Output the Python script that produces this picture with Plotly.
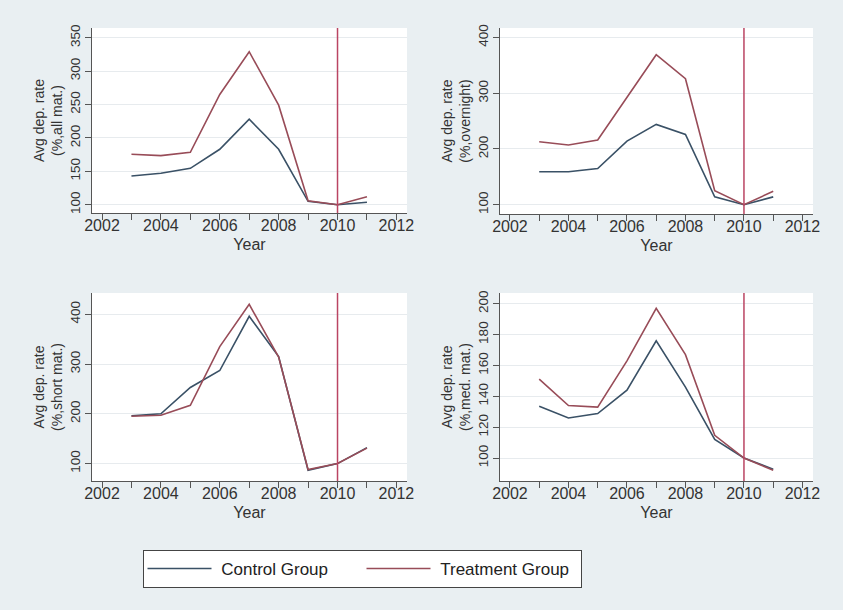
import plotly.graph_objects as go

years = [2003, 2004, 2005, 2006, 2007, 2008, 2009, 2010, 2011]
cutoff_year = 2010

x_tickvals = list(range(2002, 2013))
x_ticktext = [str(y) if y % 2 == 0 else "" for y in x_tickvals]

# Panel 1: all maturities
all_control = [143, 147, 154.5, 183, 228, 183, 105, 100, 103.6]
all_treatment = [175.5, 173.5, 178.5, 265, 329, 249, 106, 100, 112]
# Panel 2: overnight
on_control = [159, 159, 165, 214, 244, 226, 114, 100, 114]
on_treatment = [213, 207, 216, 292, 369, 326, 125, 100, 124]
# Panel 3: short maturity
short_control = [196, 200, 253, 287, 396, 315, 86.5, 100, 132]
short_treatment = [195, 197, 217, 335, 420, 314, 88, 100, 131]
# Panel 4: medium maturity
med_control = [133.5, 126, 128.8, 144, 176, 146, 112, 100, 92.7]
med_treatment = [151.2, 134, 133, 163, 197, 167, 114.7, 100, 92]

y_titles = [
    "Avg dep. rate<br>(%,all mat.)",
    "Avg dep. rate<br>(%,overnight)",
    "Avg dep. rate<br>(%,short mat.)",
    "Avg dep. rate<br>(%,med. mat.)",
]
y_ticks = [
    [100, 150, 200, 250, 300, 350],
    [100, 200, 300, 400],
    [100, 200, 300, 400],
    [100, 120, 140, 160, 180, 200],
]
y_ranges = [[87.6, 364.5], [83.3, 417], [65, 442.8], [85.1, 207]]
x_range = [2001.66, 2012.36]

controls = [all_control, on_control, short_control, med_control]
treatments = [all_treatment, on_treatment, short_treatment, med_treatment]

W, H = 843, 610
# pixel boxes (left, right, top, bottom)
boxes = [(92, 407, 28, 213), (500, 813, 28, 214), (92, 407, 293, 481), (500, 813, 293, 481)]

BG = "#E9EFF2"
CONTROL_COLOR = "#3A5166"
TREAT_COLOR = "#984C58"
VLINE_COLOR = "#BA4563"
AXIS_COLOR = "#555555"
TEXT_COLOR = "#333333"
FONT = "Liberation Sans, Arial, sans-serif"

fig = go.Figure()
layout = {}
shapes = []
for i in range(4):
    n = "" if i == 0 else str(i + 1)
    fig.add_trace(go.Scatter(
        x=years, y=controls[i], mode="lines", name="\u00a0Control Group",
        line=dict(color=CONTROL_COLOR, width=1.6), legendgroup="c",
        showlegend=(i == 0), xaxis="x" + n, yaxis="y" + n))
    fig.add_trace(go.Scatter(
        x=years, y=treatments[i], mode="lines", name="\u00a0Treatment Group",
        line=dict(color=TREAT_COLOR, width=1.6), legendgroup="t",
        showlegend=(i == 0), xaxis="x" + n, yaxis="y" + n))
    l, r, t, b = boxes[i]
    layout["xaxis" + n] = dict(
        domain=[l / W, r / W], range=x_range, anchor="y" + n,
        tickvals=x_tickvals, ticktext=x_ticktext, ticks="outside", ticklen=6,
        tickcolor=AXIS_COLOR, showline=True, linecolor=AXIS_COLOR, linewidth=1,
        showgrid=False, zeroline=False, ticklabelstandoff=-8,
        tickfont=dict(size=16, color=TEXT_COLOR, family=FONT),
        title=dict(text="Year", font=dict(size=16, color=TEXT_COLOR, family=FONT), standoff=5),
        automargin=False)
    layout["yaxis" + n] = dict(
        domain=[1 - b / H, 1 - t / H], range=y_ranges[i], anchor="x" + n,
        tickvals=y_ticks[i], tickangle=-90, ticks="outside", ticklen=6,
        tickcolor=AXIS_COLOR, showline=True, linecolor=AXIS_COLOR, linewidth=1,
        showgrid=True, gridcolor="#E7EBEE", gridwidth=1, zeroline=False,
        tickfont=dict(size=13.5, color=TEXT_COLOR, family=FONT),
        title=dict(text=y_titles[i], font=dict(size=14, color=TEXT_COLOR, family=FONT), standoff=1),
        automargin=False)
    shapes.append(dict(type="line", xref="x" + n, yref="y" + n + " domain",
                       x0=cutoff_year, x1=cutoff_year, y0=0, y1=1,
                       line=dict(color=VLINE_COLOR, width=1.5)))

fig.update_layout(
    width=W, height=H,
    margin=dict(l=0, r=0, t=0, b=0),
    paper_bgcolor=BG, plot_bgcolor="white",
    font=dict(family=FONT, color=TEXT_COLOR),
    shapes=shapes,
    legend=dict(
        orientation="h", x=362 / W, xanchor="center", y=1 - 550 / H, yanchor="top",
        bgcolor="white", bordercolor="#444444", borderwidth=1,
        font=dict(size=17, color="#222222", family=FONT),
        entrywidth=140, entrywidthmode="pixels", itemwidth=64),
    **layout)

fig.write_html(
    "out.html",
    config={"displayModeBar": False},
    post_script="document.body.style.margin='0';document.body.style.background='%s';" % BG)
